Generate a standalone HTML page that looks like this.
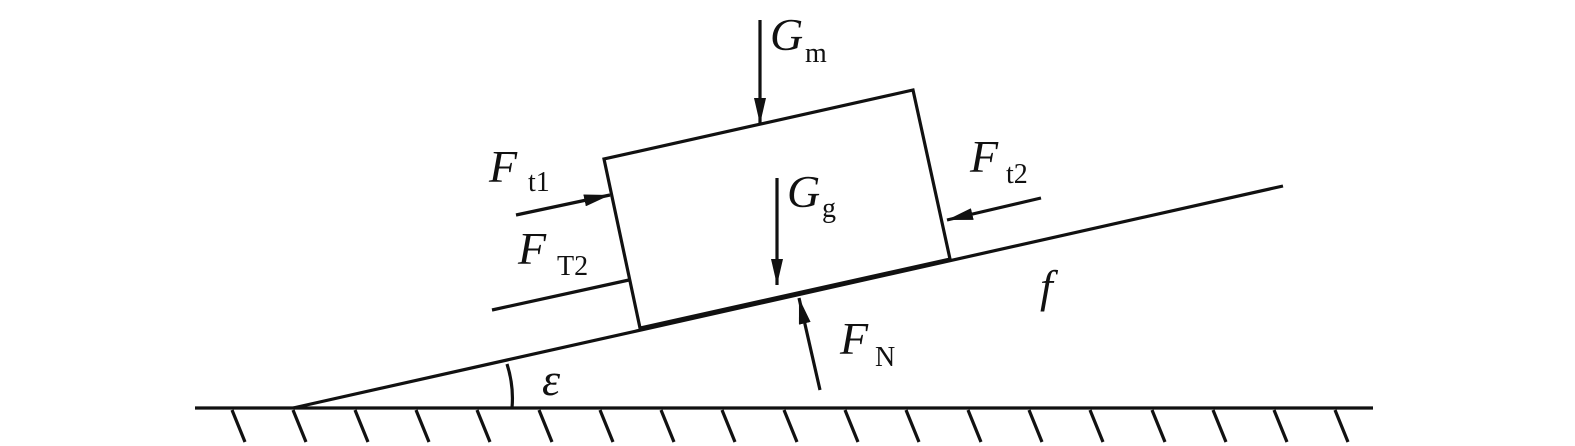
<!DOCTYPE html>
<html><head><style>body{margin:0;background:#fff}svg{display:block}
text{font-family:"Liberation Serif",serif;fill:#111}</style></head><body>
<svg width="1575" height="446" viewBox="0 0 1575 446" xmlns="http://www.w3.org/2000/svg">
<defs><marker id="b" viewBox="0 0 26 12" refX="26" refY="6" markerWidth="26" markerHeight="12" markerUnits="userSpaceOnUse" orient="auto"><path d="M0,0 L26,6 L0,12 Z" fill="#111"/></marker></defs>
<g stroke="#111" stroke-width="3.2" fill="none">
<line x1="195" y1="408" x2="1373" y2="408"/>
<line x1="293" y1="408" x2="1283" y2="186"/>
<polygon points="640,328 604,159 913,90 950,259"/>
<line x1="492" y1="310" x2="629" y2="280"/>
<path d="M507,364 Q514,386 512,408"/>
<line x1="760" y1="20" x2="760" y2="124" marker-end="url(#b)"/>
<line x1="777" y1="178" x2="777" y2="285" marker-end="url(#b)"/>
<line x1="820" y1="390" x2="799" y2="298" marker-end="url(#b)"/>
<line x1="516" y1="215" x2="610" y2="195" marker-end="url(#b)"/>
<line x1="1041" y1="198" x2="947" y2="220" marker-end="url(#b)"/>
<line x1="232" y1="410" x2="245" y2="442"/><line x1="293" y1="410" x2="306" y2="442"/><line x1="355" y1="410" x2="368" y2="442"/><line x1="416" y1="410" x2="429" y2="442"/><line x1="477" y1="410" x2="490" y2="442"/><line x1="539" y1="410" x2="552" y2="442"/><line x1="600" y1="410" x2="613" y2="442"/><line x1="661" y1="410" x2="674" y2="442"/><line x1="722" y1="410" x2="735" y2="442"/><line x1="784" y1="410" x2="797" y2="442"/><line x1="845" y1="410" x2="858" y2="442"/><line x1="906" y1="410" x2="919" y2="442"/><line x1="968" y1="410" x2="981" y2="442"/><line x1="1029" y1="410" x2="1042" y2="442"/><line x1="1090" y1="410" x2="1103" y2="442"/><line x1="1152" y1="410" x2="1165" y2="442"/><line x1="1213" y1="410" x2="1226" y2="442"/><line x1="1274" y1="410" x2="1287" y2="442"/><line x1="1335" y1="410" x2="1348" y2="442"/>
</g>
<g font-size="46" font-style="italic">
<text x="770" y="50">G</text><text x="787" y="207">G</text><text x="489" y="182">F</text><text x="970" y="172">F</text><text x="518" y="264">F</text><text x="840" y="354">F</text><text x="1040" y="302">f</text><text x="542" y="395">ε</text>
</g>
<g font-size="28">
<text x="805" y="62">m</text><text x="822" y="217">g</text><text x="528" y="191">t1</text><text x="1006" y="183">t2</text><text x="557" y="275">T2</text><text x="875" y="366">N</text>
</g>
</svg></body></html>
